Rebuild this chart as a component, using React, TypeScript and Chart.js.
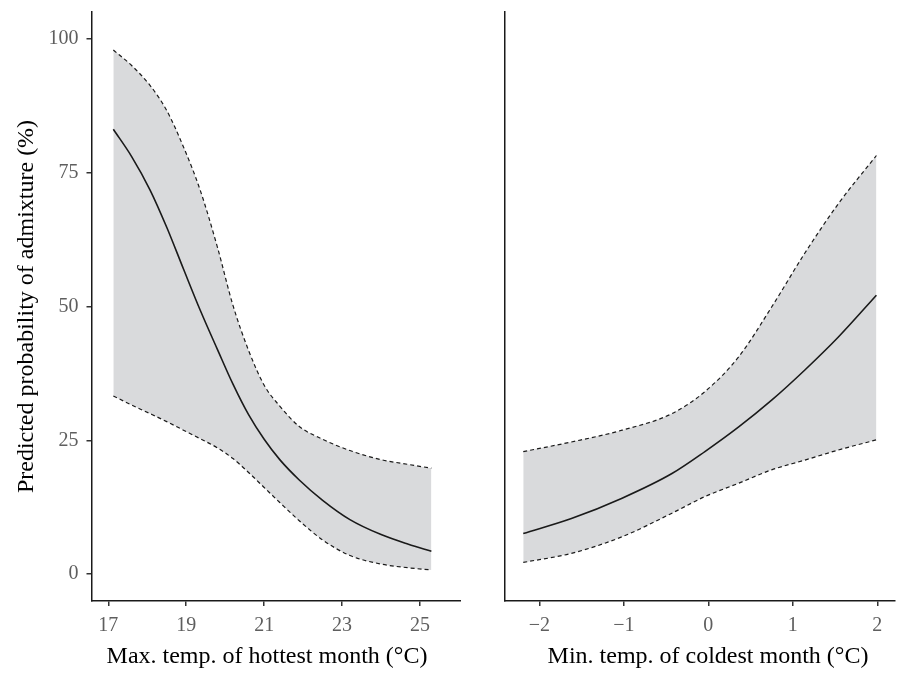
import React, { useEffect, useRef } from 'react';
import { Chart, registerables } from 'chart.js';

Chart.register(...registerables);

// ---- Left panel: Max. temp. of hottest month ----
const leftX = [17.13, 17.6, 18.07, 18.5, 18.93, 19.36, 19.8, 20.2, 20.6, 21.0, 21.4, 21.9, 22.5, 23.2, 24.0, 24.7, 25.29];
const leftFit = [83.1, 78.0, 71.8, 64.8, 57.0, 49.3, 42.0, 35.5, 29.8, 25.2, 21.4, 17.6, 13.8, 10.2, 7.4, 5.6, 4.3];
const leftLower = [33.3, 31.6, 30.0, 28.5, 26.9, 25.3, 23.6, 21.6, 19.0, 16.2, 13.4, 10.0, 6.4, 3.5, 1.9, 1.2, 0.8];
const leftUpper = [97.9, 95.0, 91.3, 86.6, 79.8, 71.7, 61.1, 50.2, 41.8, 35.3, 31.4, 27.6, 25.2, 23.1, 21.4, 20.5, 19.8];
const leftTicks = [17, 19, 21, 23, 25];

// ---- Right panel: Min. temp. of coldest month ----
const rightX = [-2.19, -1.62, -1.02, -0.43, -0.04, 0.36, 0.75, 1.14, 1.54, 1.99];
const rightFit = [7.6, 10.4, 14.2, 18.8, 22.9, 27.5, 32.5, 38.1, 44.3, 52.1];
const rightLower = [2.2, 3.9, 7.0, 11.4, 14.5, 17.0, 19.5, 21.3, 23.2, 25.1];
const rightUpper = [22.9, 24.7, 26.9, 30.0, 34.1, 40.6, 49.9, 59.9, 69.2, 78.2];
const rightTicks = [-2, -1, 0, 1, 2];

const yTicks = [0, 25, 50, 75, 100];

const yTitle = 'Predicted probability of admixture (%)';
const leftXTitle = 'Max. temp. of hottest month (°C)';
const rightXTitle = 'Min. temp. of coldest month (°C)';

const FONT = "'Liberation Serif', 'Times New Roman', serif";
const TICK_COLOR = '#5e5e5e';
const LINE = '#1a1a1a';
const BAND = '#d9dadc';

function pts(xs: number[], ys: number[]) {
  return xs.map((x, i) => ({ x, y: ys[i] }));
}

function fmt(v: number) {
  return v < 0 ? '\u2212' + Math.abs(v) : String(v);
}

function makeConfig(p: {
  xs: number[]; fit: number[]; lo: number[]; hi: number[];
  xTicks: number[]; xMin: number; xMax: number; xTitle: string; xTitleCenter: number;
  showY: boolean; yWidth: number; padRight: number;
}): any {
  const dashed = {
    borderColor: LINE,
    borderWidth: 1.2,
    borderDash: [4, 3],
    pointRadius: 0,
    cubicInterpolationMode: 'monotone',
  };
  const xTitlePlugin = {
    id: 'xTitle' + p.xTitle.length,
    afterDraw(chart: any) {
      const ctx = chart.ctx;
      ctx.save();
      ctx.font = `24px ${FONT}`;
      ctx.fillStyle = '#000';
      ctx.textAlign = 'center';
      ctx.textBaseline = 'middle';
      ctx.fillText(p.xTitle, p.xTitleCenter, 657);
      ctx.restore();
    },
  };
  return {
    type: 'line',
    data: {
      datasets: [
        { label: 'fit', data: pts(p.xs, p.fit), borderColor: LINE, borderWidth: 1.6, pointRadius: 0, cubicInterpolationMode: 'monotone', fill: false },
        { label: 'lower', data: pts(p.xs, p.lo), ...dashed, fill: false },
        { label: 'upper', data: pts(p.xs, p.hi), ...dashed, fill: '-1', backgroundColor: BAND },
      ],
    },
    plugins: [xTitlePlugin],
    options: {
      animation: false,
      responsive: false,
      events: [],
      layout: { padding: { top: 12, right: p.padRight, left: 0, bottom: 0 } },
      plugins: {
        legend: { display: false },
        tooltip: { enabled: false },
        filler: { drawTime: 'beforeDatasetsDraw' },
      },
      scales: {
        x: {
          type: 'linear',
          min: p.xMin,
          max: p.xMax,
          afterBuildTicks: (s: any) => { s.ticks = p.xTicks.map((v) => ({ value: v })); },
          afterFit: (s: any) => { s.height = 73; s.paddingLeft = 0; s.paddingRight = 0; },
          ticks: {
            font: { family: FONT, size: 20 },
            color: TICK_COLOR,
            padding: 8,
            maxRotation: 0,
            autoSkip: false,
            callback: (v: any) => fmt(Number(v)),
          },
          grid: { display: true, drawOnChartArea: false, drawTicks: true, tickLength: 5, color: '#333333', lineWidth: 1.5 },
          border: { display: true, color: LINE, width: 1.5 },
          title: { display: false },
        },
        y: {
          type: 'linear',
          min: -5,
          max: 105,
          afterBuildTicks: (s: any) => { s.ticks = yTicks.map((v) => ({ value: v })); },
          afterFit: (s: any) => { s.width = p.yWidth; s.paddingTop = 0; s.paddingBottom = 0; },
          ticks: {
            display: p.showY,
            font: { family: FONT, size: 20 },
            color: TICK_COLOR,
            padding: 8,
            callback: (v: any) => fmt(Number(v)),
          },
          grid: { display: p.showY, drawOnChartArea: false, drawTicks: true, tickLength: 5, color: '#333333', lineWidth: 1.5 },
          border: { display: true, color: LINE, width: 1.5 },
          title: {
            display: p.showY,
            text: yTitle,
            color: '#000',
            font: { family: FONT, size: 24 },
            padding: { top: 12, bottom: 0 },
          },
        },
      },
    },
  };
}

export default function App() {
  const leftRef = useRef<HTMLCanvasElement>(null);
  const rightRef = useRef<HTMLCanvasElement>(null);

  useEffect(() => {
    const c1 = new Chart(leftRef.current!, makeConfig({
      xs: leftX, fit: leftFit, lo: leftLower, hi: leftUpper,
      xTicks: leftTicks, xMin: 16.57, xMax: 26.05, xTitle: leftXTitle, xTitleCenter: 267,
      showY: true, yWidth: 91.5, padRight: 0,
    }));
    const c2 = new Chart(rightRef.current!, makeConfig({
      xs: rightX, fit: rightFit, lo: rightLower, hi: rightUpper,
      xTicks: rightTicks, xMin: -2.406, xMax: 2.21, xTitle: rightXTitle, xTitleCenter: 708 - 470,
      showY: false, yWidth: 35, padRight: 6,
    }));
    return () => { c1.destroy(); c2.destroy(); };
  }, []);

  return (
    <div style={{ position: 'absolute', left: 0, top: 0, width: 901, height: 674, background: '#fff' }}>
      <canvas ref={leftRef} width={461} height={674} style={{ position: 'absolute', left: 0, top: 0, width: 461, height: 674 }} />
      <canvas ref={rightRef} width={431} height={674} style={{ position: 'absolute', left: 470, top: 0, width: 431, height: 674 }} />
    </div>
  );
}
